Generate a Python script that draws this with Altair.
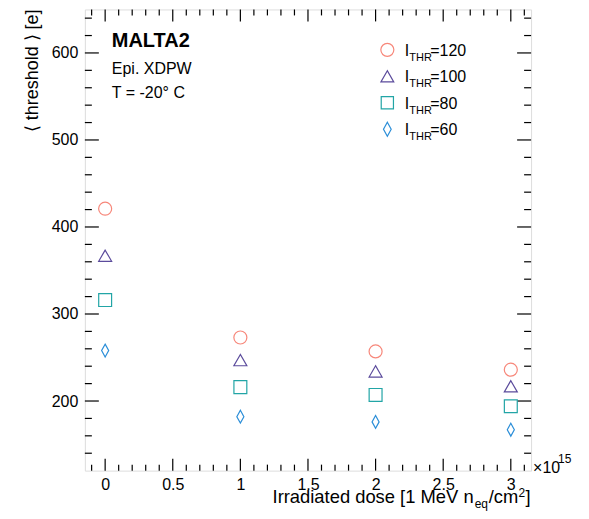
import altair as alt
import pandas as pd

# ---------------- data ----------------
dose = [0, 1, 2, 3]
thr120 = [421, 273, 257, 236]
thr100 = [367, 247, 234, 217]
thr80 = [316, 216, 207, 194]
thr60 = [258, 182, 176, 167]

series_names = ["120", "100", "80", "60"]
series_values = [thr120, thr100, thr80, thr60]
series_colors = ["#f7877a", "#5b4b9c", "#22a5a6", "#2b8ed8"]
series_shapes = ["circle", "triangle-up", "square", "M0,-1L0.55,0L0,1L-0.55,0Z"]
series_sizes = [170, 165, 150, 196]

x_major = [0, 0.5, 1, 1.5, 2, 2.5, 3]
x_minor = [-0.1, 0.1, 0.2, 0.3, 0.4, 0.6, 0.7, 0.8, 0.9, 1.1, 1.2, 1.3, 1.4,
           1.6, 1.7, 1.8, 1.9, 2.1, 2.2, 2.3, 2.4, 2.6, 2.7, 2.8, 2.9, 3.1]
y_major = [200, 300, 400, 500, 600]
y_minor = [140, 160, 180, 220, 240, 260, 280, 320, 340, 360, 380, 420, 440,
           460, 480, 520, 540, 560, 580, 620, 640]

X_DOMAIN = [-0.15, 3.15]
Y_DOMAIN = [120, 650]

W, H = 447, 462
FONT = "Liberation Sans"

rows = []
for name, vals in zip(series_names, series_values):
    for d, v in zip(dose, vals):
        rows.append({"dose": d, "thr": v, "series": name})
df = pd.DataFrame(rows)

xs = alt.Scale(domain=X_DOMAIN, nice=False, zero=False)
ys = alt.Scale(domain=Y_DOMAIN, nice=False, zero=False)

points = alt.Chart(df).mark_point(filled=False, strokeWidth=1.2, opacity=1).encode(
    x=alt.X("dose:Q", scale=xs,
            axis=alt.Axis(values=x_major, format="~g", ticks=False, domain=False, grid=False,
                          labelFontSize=16, labelFont=FONT, labelColor="black",
                          labelPadding=6, title=None, labelFlush=False)),
    y=alt.Y("thr:Q", scale=ys,
            axis=alt.Axis(values=y_major, ticks=False, domain=False, grid=False,
                          labelFontSize=16, labelFont=FONT, labelColor="black",
                          labelPadding=7, title=None, labelFlush=False)),
    color=alt.Color("series:N", scale=alt.Scale(domain=series_names, range=series_colors), legend=None),
    shape=alt.Shape("series:N", scale=alt.Scale(domain=series_names, range=series_shapes), legend=None),
    size=alt.Size("series:N", scale=alt.Scale(domain=series_names, range=series_sizes), legend=None),
)

TICK_W = 1.2

def xticks(vals, length):
    d = pd.DataFrame({"v": vals})
    bottom = alt.Chart(d).mark_rule(color="black", strokeWidth=TICK_W).encode(
        x=alt.X("v:Q", scale=xs), y=alt.value(H), y2=alt.value(H - length))
    top = alt.Chart(d).mark_rule(color="black", strokeWidth=TICK_W).encode(
        x=alt.X("v:Q", scale=xs), y=alt.value(0), y2=alt.value(length))
    return [bottom, top]

def yticks(vals, length):
    d = pd.DataFrame({"v": vals})
    left = alt.Chart(d).mark_rule(color="black", strokeWidth=TICK_W).encode(
        y=alt.Y("v:Q", scale=ys), x=alt.value(0), x2=alt.value(length))
    right = alt.Chart(d).mark_rule(color="black", strokeWidth=TICK_W).encode(
        y=alt.Y("v:Q", scale=ys), x=alt.value(W), x2=alt.value(W - length))
    return [left, right]

one = pd.DataFrame({"a": [0]})

def txt(s, x, y, size=16, bold=False, align="left", angle=0, baseline="alphabetic"):
    kw = dict(align=align, baseline=baseline, font=FONT, fontSize=size, color="black")
    if bold:
        kw["fontWeight"] = "bold"
    if angle:
        kw["angle"] = angle
    return alt.Chart(one).mark_text(**kw).encode(
        x=alt.value(x), y=alt.value(y), text=alt.value(s))

layers = []
layers += xticks(x_major, 12) + xticks(x_minor, 6)
layers += yticks(y_major, 14) + yticks(y_minor, 7)
layers.append(points)

# annotation text
layers.append(txt("MALTA2", 27, 38, size=20, bold=True))
layers.append(txt("Epi. XDPW", 27, 65, size=16))
layers.append(txt("T = -20° C", 27, 89, size=16))

# legend
leg_x = 303
leg_y0 = 40.5
leg_dy = 26.5
for i, (name, col, shp, sz) in enumerate(zip(series_names, series_colors, series_shapes, series_sizes)):
    cy = leg_y0 + i * leg_dy
    layers.append(alt.Chart(one).mark_point(filled=False, strokeWidth=1.2, opacity=1,
                                            color=col, shape=shp, size=sz).encode(
        x=alt.value(leg_x), y=alt.value(cy)))
    layers.append(txt("I", 320.5, cy + 6, size=16))
    layers.append(txt("THR", 325, cy + 11, size=11))
    layers.append(txt("=" + name, 346, cy + 6, size=16))

# x10^15
layers.append(txt("×10", 449, 464, size=16))
layers.append(txt("15", 474, 454, size=12))

# x title pieces (right end at ~ W)
layers.append(txt("Irradiated dose [1 MeV n", 188, 494, size=18.4))
layers.append(txt("eq", 390.5, 499.5, size=12))
layers.append(txt("/cm", 404.5, 494, size=18.4))
layers.append(txt("2", 434.5, 488, size=12))
layers.append(txt("]", 441.5, 494, size=18.4))

# y title
layers.append(txt("⟨ threshold ⟩ [e]", -52, 0, size=18, align="right", angle=270, baseline="middle"))

chart = alt.layer(*layers).properties(
    width=W, height=H,
    autosize=alt.AutoSizeParams(type="none"),
    padding={"left": 77, "top": 1, "right": 50, "bottom": 40},
).configure_view(stroke="black", strokeWidth=1.5, strokeOpacity=1).configure(background="white")

chart.save("out.html", embed_options={"renderer": "svg", "actions": False})
